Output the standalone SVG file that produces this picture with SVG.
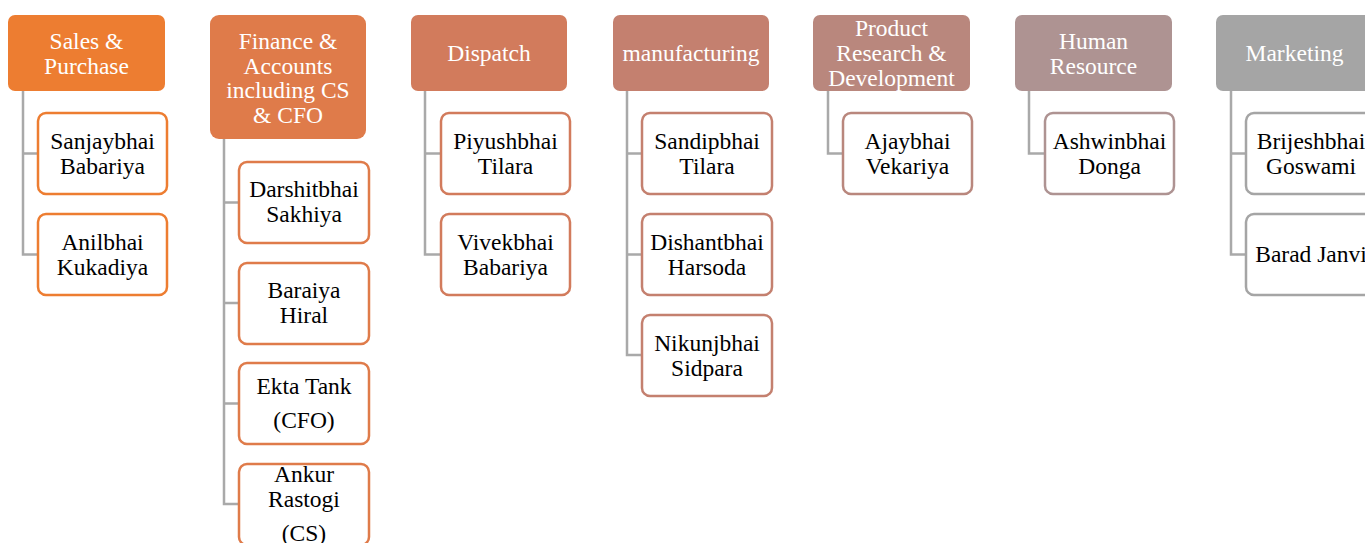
<svg xmlns="http://www.w3.org/2000/svg" width="1365" height="543" viewBox="0 0 1365 543">
<style>
text{font-family:"Liberation Serif","Times New Roman",serif;font-size:23.5px;text-anchor:middle}
.h text{fill:#fff}
.c text{fill:#000}
.c rect{fill:#fff;stroke-width:2.5}
#conn path{fill:none;stroke:#A9A9A9;stroke-width:2.5}
</style>
<rect width="1365" height="543" fill="#fff"/>
<g id="conn">
<path d="M23 91V254.5H38M23 153.5H38"/>
<path d="M224 139V504H239M224 202.5H239M224 303H239M224 403.5H239"/>
<path d="M425 91V254.5H441M425 153.5H441"/>
<path d="M627 91V355H642M627 153.5H642M627 254.5H642"/>
<path d="M828 91V153.5H843"/>
<path d="M1029 91V153.5H1045"/>
<path d="M1231 91V254.5H1246M1231 153.5H1246"/>
</g>
<g id="h1" class="h"><rect x="8" y="15" width="157" height="76" rx="7" fill="#ED7D31"/><text x="86.5" y="49">Sales &amp;</text><text x="86.5" y="73.5">Purchase</text></g>
<g id="h2" class="h"><rect x="210" y="15" width="156" height="124" rx="9" fill="#DF7B4A"/><text x="288" y="49">Finance &amp;</text><text x="288" y="73.5">Accounts</text><text x="288" y="98">including CS</text><text x="288" y="122.5">&amp; CFO</text></g>
<g id="h3" class="h"><rect x="411" y="15" width="156" height="76" rx="7" fill="#D27B5C"/><text x="489" y="61">Dispatch</text></g>
<g id="h4" class="h"><rect x="613" y="15" width="156" height="76" rx="7" fill="#C4806F"/><text x="691" y="61">manufacturing</text></g>
<g id="h5" class="h"><rect x="813" y="15" width="157" height="76" rx="7" fill="#B9877D"/><text x="891.5" y="36">Product</text><text x="891.5" y="61">Research &amp;</text><text x="891.5" y="86">Development</text></g>
<g id="h6" class="h"><rect x="1015" y="15" width="157" height="76" rx="7" fill="#AE9392"/><text x="1093.5" y="49">Human</text><text x="1093.5" y="73.5">Resource</text></g>
<g id="h7" class="h"><rect x="1216" y="15" width="157" height="76" rx="7" fill="#A5A5A5"/><text x="1294.5" y="61">Marketing</text></g>

<g id="c1" class="c"><rect x="38" y="113" width="129" height="81" rx="8" stroke="#ED7D31"/><text x="102.5" y="149">Sanjaybhai</text><text x="102.5" y="174">Babariya</text></g>
<g id="c2" class="c"><rect x="38" y="214" width="129" height="81" rx="8" stroke="#ED7D31"/><text x="102.5" y="250">Anilbhai</text><text x="102.5" y="275">Kukadiya</text></g>

<g id="c3" class="c"><rect x="239" y="162" width="130" height="81" rx="8" stroke="#DF7B4A"/><text x="304" y="197">Darshitbhai</text><text x="304" y="222">Sakhiya</text></g>
<g id="c4" class="c"><rect x="239" y="263" width="130" height="81" rx="8" stroke="#DF7B4A"/><text x="304" y="298">Baraiya</text><text x="304" y="323">Hiral</text></g>
<g id="c5" class="c"><rect x="239" y="363" width="130" height="81" rx="8" stroke="#DF7B4A"/><text x="304" y="394">Ekta Tank</text><text x="304" y="428">(CFO)</text></g>
<g id="c6" class="c"><rect x="239" y="464" width="130" height="81" rx="8" stroke="#DF7B4A"/><text x="304" y="482">Ankur</text><text x="304" y="507">Rastogi</text><text x="304" y="541">(CS)</text></g>

<g id="c7" class="c"><rect x="441" y="113" width="129" height="81" rx="8" stroke="#D27B5C"/><text x="505.5" y="149">Piyushbhai</text><text x="505.5" y="174">Tilara</text></g>
<g id="c8" class="c"><rect x="441" y="214" width="129" height="81" rx="8" stroke="#D27B5C"/><text x="505.5" y="250">Vivekbhai</text><text x="505.5" y="275">Babariya</text></g>

<g id="c9" class="c"><rect x="642" y="113" width="130" height="81" rx="8" stroke="#C4806F"/><text x="707" y="149">Sandipbhai</text><text x="707" y="174">Tilara</text></g>
<g id="c10" class="c"><rect x="642" y="214" width="130" height="81" rx="8" stroke="#C4806F"/><text x="707" y="250">Dishantbhai</text><text x="707" y="275">Harsoda</text></g>
<g id="c11" class="c"><rect x="642" y="315" width="130" height="81" rx="8" stroke="#C4806F"/><text x="707" y="351">Nikunjbhai</text><text x="707" y="376">Sidpara</text></g>

<g id="c12" class="c"><rect x="843" y="113" width="129" height="81" rx="8" stroke="#B9877D"/><text x="907.5" y="149">Ajaybhai</text><text x="907.5" y="174">Vekariya</text></g>
<g id="c13" class="c"><rect x="1045" y="113" width="129" height="81" rx="8" stroke="#AE9392"/><text x="1109.5" y="149">Ashwinbhai</text><text x="1109.5" y="174">Donga</text></g>

<g id="c14" class="c"><rect x="1246" y="113" width="130" height="81" rx="8" stroke="#A5A5A5"/><text x="1311" y="149">Brijeshbhai</text><text x="1311" y="174">Goswami</text></g>
<g id="c15" class="c"><rect x="1246" y="214" width="130" height="81" rx="8" stroke="#A5A5A5"/><text x="1311" y="262">Barad Janvi</text></g>
</svg>
